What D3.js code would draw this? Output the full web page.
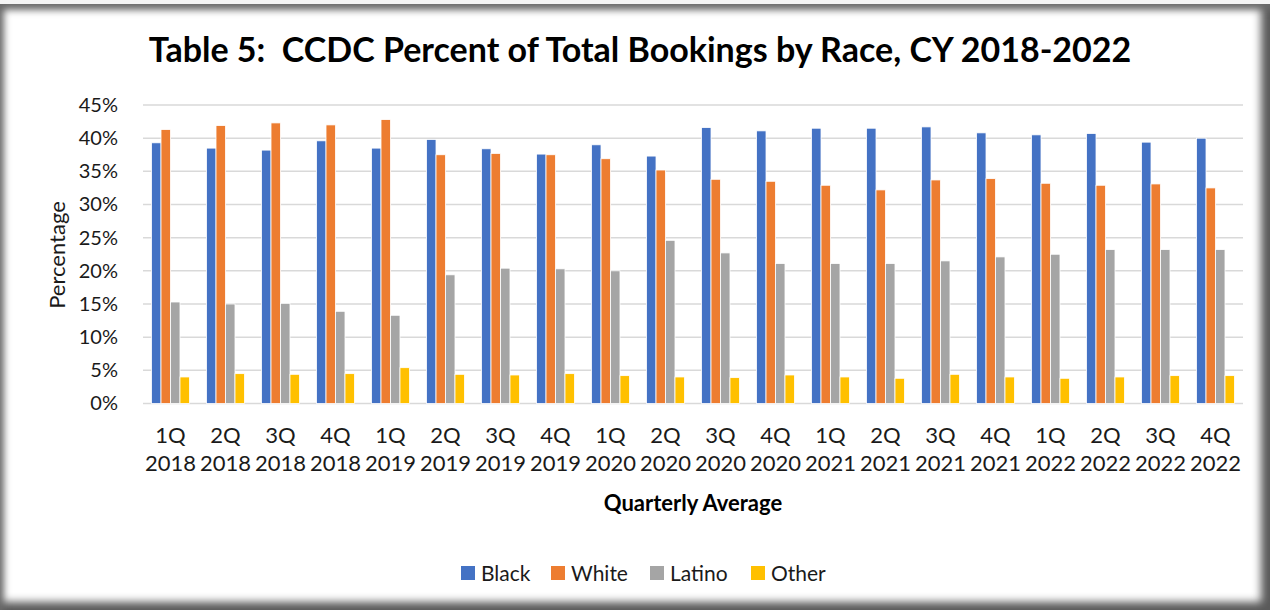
<!DOCTYPE html>
<html>
<head>
<meta charset="utf-8">
<script src="https://cdn.jsdelivr.net/npm/d3@7"></script>
<style>
  html, body { margin: 0; padding: 0; background: #f4f4f4; }
  #frame {
    position: absolute; left: 0; top: 4px; width: 1270px; height: 606px;
    background: #fff;
    box-shadow: inset 7px 9px 7px -3px #6a6a6a, inset -13px -12px 9px -4px #5a5a5a;
  }
  svg { position: absolute; left: 0; top: 0; font-family: Lato, "Noto Sans", sans-serif; }
</style>
</head>
<body>
<div id="frame"></div>
<svg id="chart" width="1270" height="610"></svg>
<script>
var quarters = ["1Q", "2Q", "3Q", "4Q", "1Q", "2Q", "3Q", "4Q", "1Q", "2Q",
                "3Q", "4Q", "1Q", "2Q", "3Q", "4Q", "1Q", "2Q", "3Q", "4Q"]
var years = ["2018", "2018", "2018", "2018", "2019", "2019", "2019", "2019", "2020", "2020",
             "2020", "2020", "2021", "2021", "2021", "2021", "2022", "2022", "2022", "2022"]

var black  = [39.3, 38.5, 38.2, 39.6, 38.5, 39.8, 38.4, 37.6, 39.0, 37.3,
              41.6, 41.1, 41.5, 41.5, 41.7, 40.8, 40.5, 40.7, 39.4, 40.0]
var white  = [41.3, 41.9, 42.3, 42.0, 42.8, 37.5, 37.7, 37.5, 36.9, 35.2,
              33.8, 33.5, 32.9, 32.2, 33.7, 33.9, 33.2, 32.9, 33.1, 32.5]
var latino = [15.3, 15.0, 15.1, 13.9, 13.3, 19.4, 20.4, 20.3, 20.0, 24.6,
              22.7, 21.1, 21.1, 21.1, 21.5, 22.1, 22.5, 23.2, 23.2, 23.2]
var other  = [4.0, 4.5, 4.4, 4.5, 5.4, 4.4, 4.3, 4.5, 4.2, 4.0,
              3.9, 4.3, 4.0, 3.8, 4.4, 4.0, 3.8, 4.0, 4.2, 4.2]

var seriesNames = ["Black", "White", "Latino", "Other"]
var seriesColors = ["#4472C4", "#ED7D31", "#A5A5A5", "#FFC000"]
var yTicks = [0, 5, 10, 15, 20, 25, 30, 35, 40, 45]

var series = [black, white, latino, other]
var data = quarters.map((q, i) => ({
  id: i,
  values: series.map((s, k) => ({ key: seriesNames[k], value: s[i] }))
}))

var svg = d3.select("#chart"),
    plotLeft = 143, plotRight = 1243, plotTop = 105, plotBottom = 403.5;

var x0 = d3.scaleBand()
    .domain(d3.range(quarters.length))
    .range([plotLeft, plotRight])
    .paddingInner(0.31)
    .paddingOuter(0.155);

var x1 = d3.scaleBand()
    .domain(seriesNames)
    .range([0, x0.bandwidth()]);

var y = d3.scaleLinear().domain([0, 45]).range([plotBottom, plotTop]);

var color = d3.scaleOrdinal().domain(seriesNames).range(seriesColors);

// gridlines
svg.append("g")
  .selectAll("line")
  .data(yTicks)
  .enter().append("line")
    .attr("x1", plotLeft)
    .attr("x2", plotRight)
    .attr("y1", d => y(d))
    .attr("y2", d => y(d))
    .attr("stroke", "#d9d9d9")
    .attr("stroke-width", 1.5);

// y axis labels
var yAxis = svg.append("g")
    .attr("transform", "translate(" + (plotLeft - 22) + ",0)")
    .call(d3.axisLeft(y).tickValues(yTicks).tickFormat(d => d + "%").tickSize(0));
yAxis.select(".domain").remove();
yAxis.selectAll("text")
    .attr("font-family", "Lato, sans-serif")
    .attr("font-size", 20)
    .attr("fill", "#1a1a1a");

// bars
svg.append("g")
  .selectAll("g")
  .data(data)
  .enter().append("g")
    .attr("transform", d => "translate(" + x0(d.id) + ",0)")
  .selectAll("rect")
  .data(d => d.values)
  .enter().append("rect")
    .attr("x", d => x1(d.key))
    .attr("y", d => y(d.value))
    .attr("width", x1.bandwidth())
    .attr("height", d => y(0) - y(d.value))
    .attr("fill", d => color(d.key))
    .attr("stroke", "#fff")
    .attr("stroke-width", 0.8);

// x axis labels (two lines)
var xAxis = svg.append("g")
    .attr("transform", "translate(0," + plotBottom + ")")
    .call(d3.axisBottom(x0).tickSize(0).tickFormat(""));
xAxis.select(".domain").remove();
xAxis.selectAll(".tick").append("text")
    .attr("text-anchor", "middle")
    .attr("font-family", "Lato, sans-serif")
    .attr("font-size", 22)
    .attr("fill", "#1a1a1a")
  .selectAll("tspan")
  .data(i => [quarters[i], years[i]])
  .enter().append("tspan")
    .attr("x", 0)
    .attr("y", (d, j) => 39 + j * 28)
    .text(d => d);

// title
svg.append("text")
    .attr("x", 640)
    .attr("y", 62)
    .attr("text-anchor", "middle")
    .attr("font-weight", "bold")
    .attr("font-size", 34)
    .attr("fill", "#000")
    .attr("xml:space", "preserve")
    .text("Table 5:  CCDC Percent of Total Bookings by Race, CY 2018-2022");

// axis titles
svg.append("text")
    .attr("transform", "translate(65,255) rotate(-90)")
    .attr("text-anchor", "middle")
    .attr("font-size", 22)
    .attr("fill", "#1a1a1a")
    .text("Percentage");

svg.append("text")
    .attr("x", 693)
    .attr("y", 511)
    .attr("text-anchor", "middle")
    .attr("font-weight", "bold")
    .attr("font-size", 22)
    .attr("fill", "#000")
    .text("Quarterly Average");

// legend
var legendX = [461, 551, 650, 751];
var legend = svg.append("g")
  .selectAll("g")
  .data(seriesNames)
  .enter().append("g")
    .attr("transform", (d, i) => "translate(" + legendX[i] + ",566)");
legend.append("rect")
    .attr("width", 14)
    .attr("height", 14)
    .attr("fill", d => color(d));
legend.append("text")
    .attr("x", 20)
    .attr("y", 15)
    .attr("font-size", 21)
    .attr("fill", "#1a1a1a")
    .text(d => d);
</script>
</body>
</html>
